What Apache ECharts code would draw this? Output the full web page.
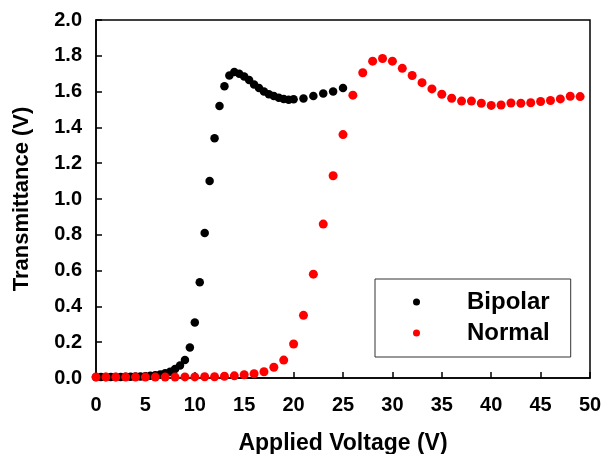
<!DOCTYPE html>
<html><head><meta charset="utf-8">
<script src="https://cdn.jsdelivr.net/npm/echarts@6/dist/echarts.min.js"></script>
<style>html,body{margin:0;padding:0;background:#fff}#c{width:605px;height:454px}</style>
</head><body><div id="c"></div>
<script>
const bipolarV = [0,0.5,1,1.5,2,2.5,3,3.5,4,4.5,5,5.5,6,6.5,7,7.5,8,8.5,9,9.5,10,10.5,11,11.5,12,12.5,13,13.5,14,14.5,15,15.5,16,16.5,17,17.5,18,18.5,19,19.5,20,21,22,23,24,25];
const bipolarT = [0.005,0.005,0.005,0.005,0.006,0.006,0.007,0.007,0.008,0.009,0.01,0.012,0.015,0.02,0.027,0.035,0.05,0.07,0.1,0.17,0.31,0.535,0.81,1.10,1.34,1.52,1.63,1.69,1.71,1.70,1.685,1.665,1.64,1.62,1.60,1.585,1.575,1.565,1.558,1.555,1.557,1.562,1.575,1.59,1.60,1.62];
const normalV = [0,1,2,3,4,5,6,7,8,9,10,11,12,13,14,15,16,17,18,19,20,21,22,23,24,25,26,27,28,29,30,31,32,33,34,35,36,37,38,39,40,41,42,43,44,45,46,47,48,49];
const normalT = [0.005,0.005,0.005,0.005,0.005,0.005,0.005,0.005,0.005,0.006,0.006,0.007,0.007,0.01,0.012,0.018,0.024,0.035,0.06,0.10,0.19,0.35,0.58,0.86,1.13,1.36,1.58,1.705,1.77,1.785,1.77,1.73,1.69,1.65,1.615,1.585,1.563,1.547,1.547,1.535,1.523,1.525,1.536,1.535,1.538,1.545,1.55,1.559,1.574,1.572];
const xTicks = [0,5,10,15,20,25,30,35,40,45,50];
const yTicks = ['0.0','0.2','0.4','0.6','0.8','1.0','1.2','1.4','1.6','1.8','2.0'];
const seriesNames = ['Bipolar','Normal'];

const F = '"Liberation Sans", Arial, sans-serif';
const chart = echarts.init(document.getElementById('c'), null, {renderer:'canvas'});
chart.setOption({
  animation:false,
  backgroundColor:'#fff',
  grid:{left:96,right:15,top:20,bottom:76,show:true,borderColor:'#000',borderWidth:1.5,
    containLabel:false,outerBoundsMode:'none'},
  xAxis:{type:'value',min:0,max:50,interval:5,
    name:'Applied Voltage (V)',nameLocation:'middle',nameGap:54,
    nameTextStyle:{fontFamily:F,fontWeight:'bold',fontSize:23,color:'#000'},
    axisLine:{lineStyle:{color:'#000',width:1.5}},
    axisTick:{inside:true,length:6,lineStyle:{color:'#000',width:1.5}},
    axisLabel:{fontFamily:F,fontWeight:'bold',fontSize:20,color:'#000',margin:17,
      formatter:v=>String(xTicks[Math.round(v/5)])},
    splitLine:{show:false}},
  yAxis:{type:'value',min:0,max:2,interval:0.2,
    name:'Transmittance (V)',nameLocation:'middle',nameGap:63,
    nameTextStyle:{fontFamily:F,fontWeight:'bold',fontSize:22,color:'#000'},
    axisLine:{lineStyle:{color:'#000',width:1.5}},
    axisTick:{inside:true,length:6,lineStyle:{color:'#000',width:1.5}},
    axisLabel:{fontFamily:F,fontWeight:'bold',fontSize:20,color:'#000',margin:14,
      formatter:(v)=>yTicks[Math.round(v/0.2)]},
    splitLine:{show:false}},
  legend:{orient:'vertical',left:375,top:279,
    padding:[11,21,12,38],itemGap:7,itemWidth:7,itemHeight:7,
    borderColor:'#333',borderWidth:1,
    data:seriesNames.map(n=>({name:n,icon:'circle'})),
    textStyle:{fontFamily:F,fontWeight:'bold',fontSize:24,color:'#000',padding:[0,0,0,42]}},
  series:[
    {name:seriesNames[0],type:'scatter',symbol:'circle',symbolSize:8.5,itemStyle:{color:'#000',opacity:1},
     data:bipolarV.map((v,i)=>[v,bipolarT[i]])},
    {name:seriesNames[1],type:'scatter',symbol:'circle',symbolSize:9,itemStyle:{color:'#ff0000',opacity:1},
     data:normalV.map((v,i)=>[v,normalT[i]])}
  ]
});
</script></body></html>
